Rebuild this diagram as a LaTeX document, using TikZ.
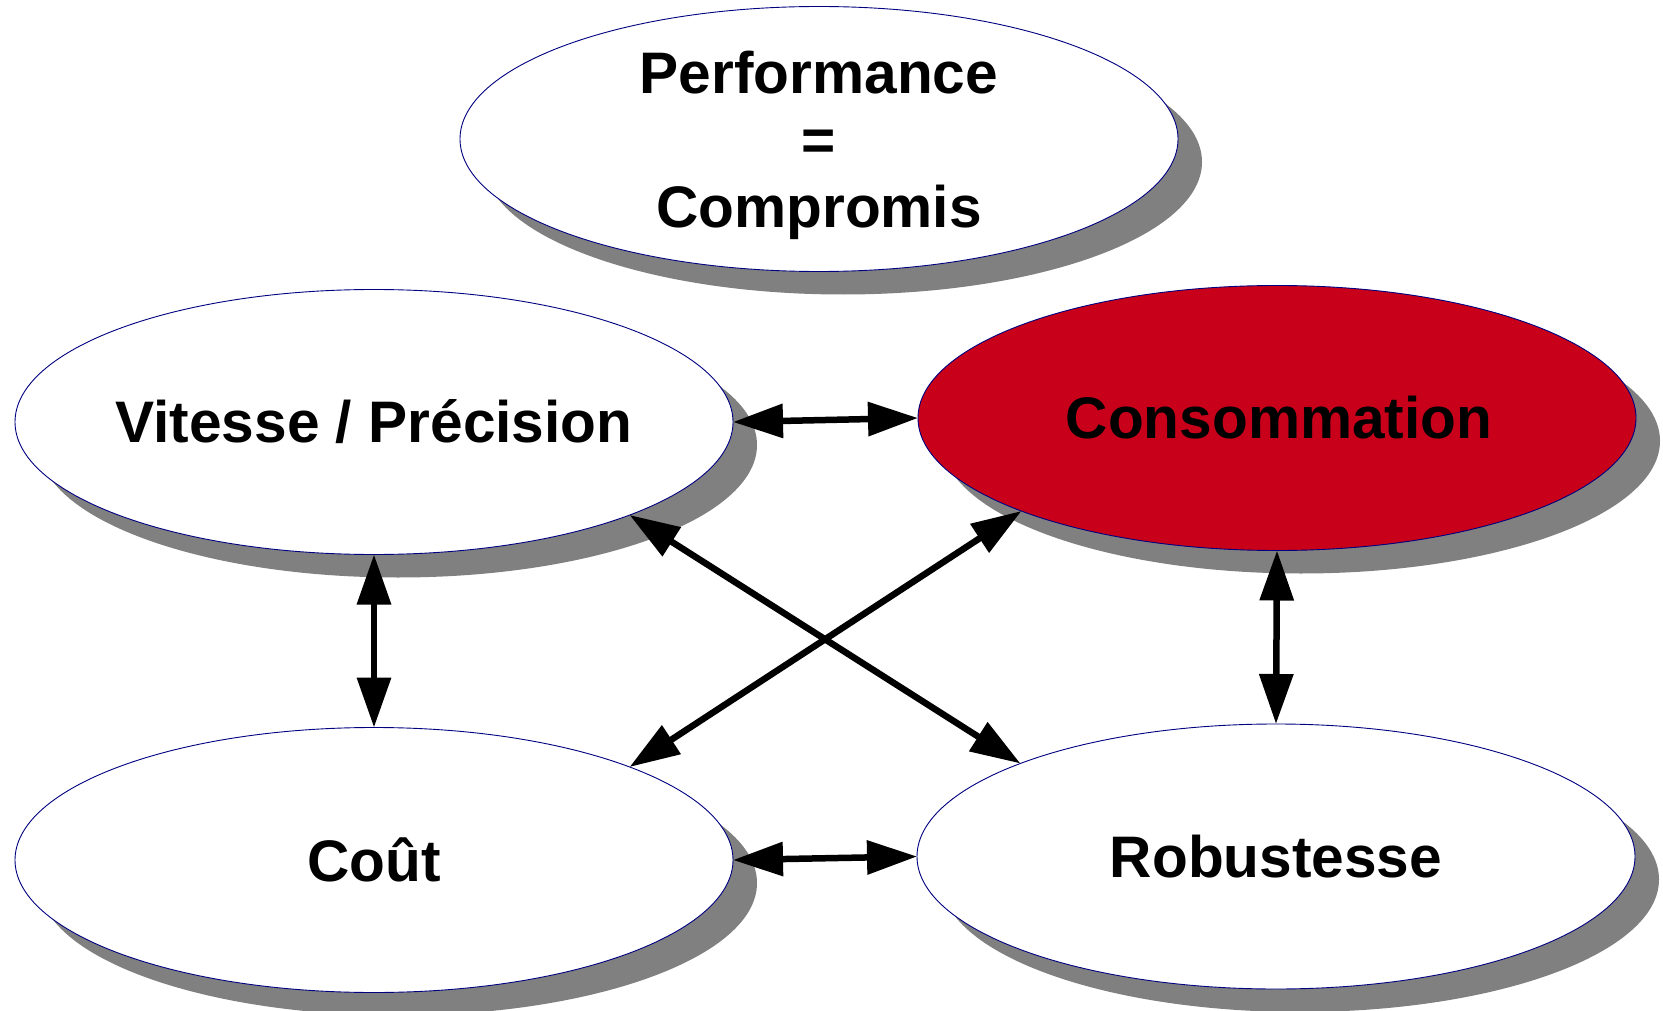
\documentclass[tikz,border=0pt]{standalone}
\usepackage{fontspec}
\setmainfont{Liberation Sans}
\usetikzlibrary{shapes.geometric,shadows,arrows.meta}
\definecolor{outl}{RGB}{0,0,128}
\definecolor{redfill}{RGB}{200,0,26}
\definecolor{shad}{RGB}{128,128,128}
\tikzset{
  oval/.style={ellipse, draw=outl, line width=0.9pt, fill=white, outer sep=0pt, inner sep=0pt,
    minimum width=718pt, minimum height=265pt,
    drop shadow={shadow xshift=24pt, shadow yshift=-23pt, fill=shad, opacity=1}},
  txt/.style={align=center, inner sep=0pt, font=\fontsize{58.6}{67}\selectfont\bfseries},
  link/.style={line width=6.5pt, {Triangle[length=50pt,width=33pt]}-{Triangle[length=50pt,width=33pt]}}
}
\begin{document}
\begin{tikzpicture}[x=1pt,y=-1pt]
\useasboundingbox (0,0) rectangle (1663,1011);
\node[oval, label={[txt, yshift=-6.5pt]center:{Performance\\=\\Compromis}}] (p) at (819,139) {};
\node[oval, label={[txt]center:{Vitesse / Précision}}] (v) at (374,422) {};
\node[oval, fill=redfill, label={[txt, xshift=2pt]center:{Consommation}}] (c) at (1277,418) {};
\node[oval, label={[txt]center:{Coût}}] (k) at (374,860) {};
\node[oval, label={[txt]center:{Robustesse}}] (r) at (1276,856.5) {};
\draw[link] (v.east) -- (c.west);
\draw[link] (k.east) -- (r.west);
\draw[link] (v.south) -- (k.north);
\draw[link] (c.south) -- (r.north);
\draw[link] (v.-20) -- (r.160);
\draw[link] (c.200) -- (k.20);
\end{tikzpicture}
\end{document}
